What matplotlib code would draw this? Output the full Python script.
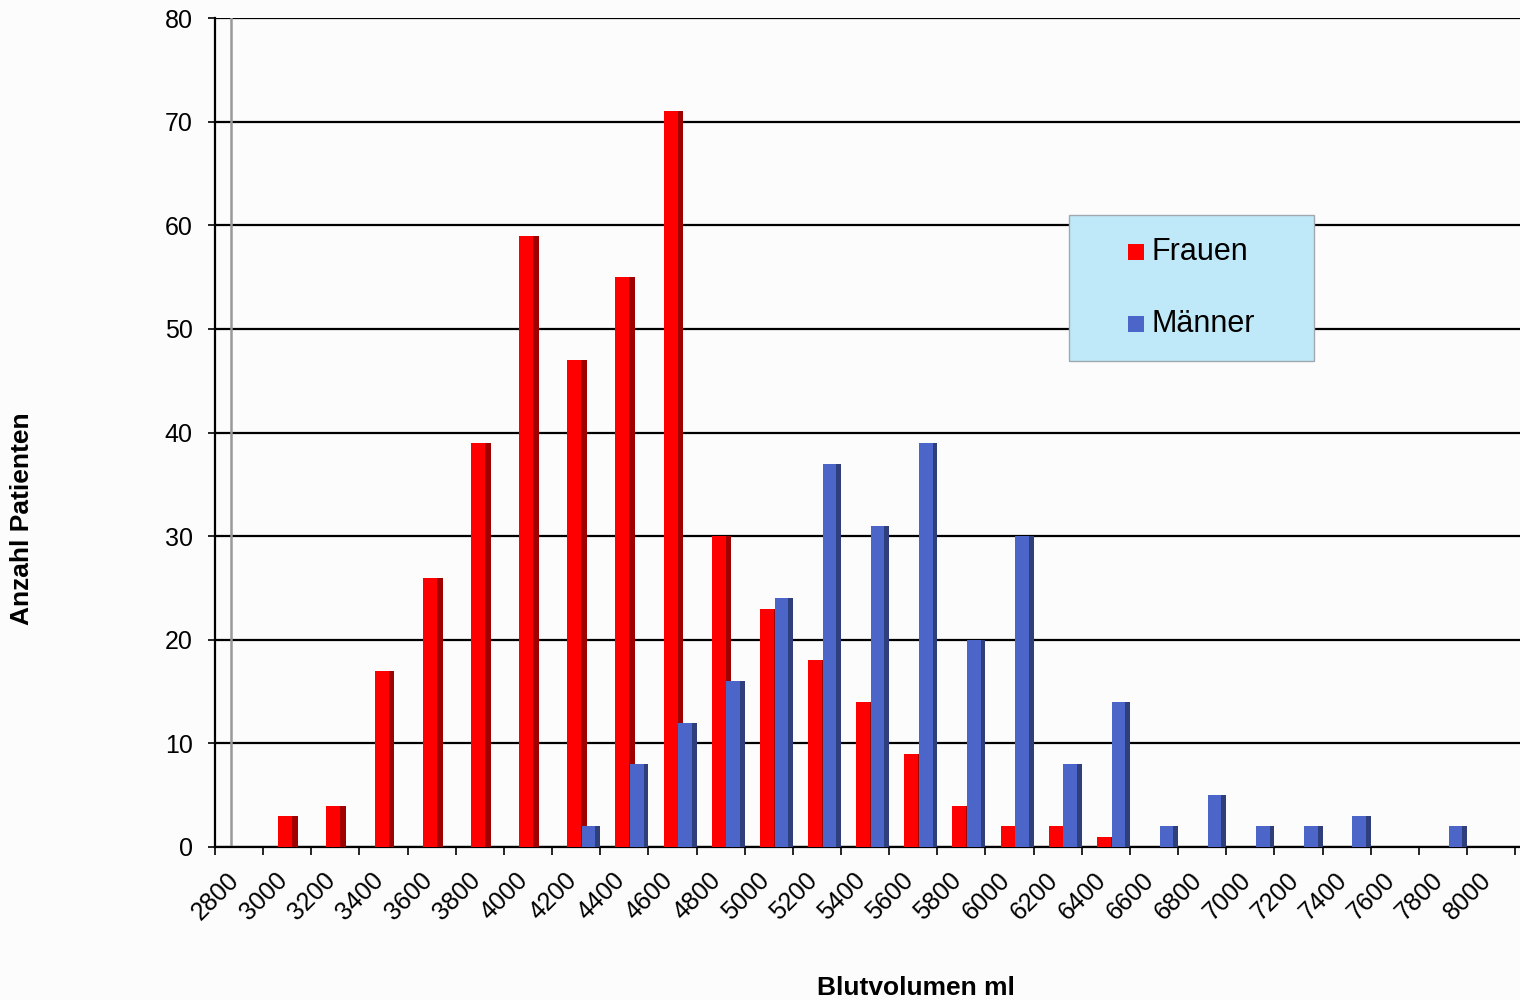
import numpy as np
import matplotlib
matplotlib.use("Agg")
import matplotlib.pyplot as plt
from matplotlib.patches import Rectangle
from matplotlib.transforms import ScaledTranslation

plt.rcParams['font.family'] = ['Liberation Sans', 'DejaVu Sans']

# blood volume classes (ml)
volumen = [2800, 3000, 3200, 3400, 3600, 3800, 4000, 4200, 4400, 4600,
           4800, 5000, 5200, 5400, 5600, 5800, 6000, 6200, 6400, 6600,
           6800, 7000, 7200, 7400, 7600, 7800, 8000]
frauen = [0, 3, 4, 17, 26, 39, 59, 47, 55, 71,
          30, 23, 18, 14, 9, 4, 2, 2, 1, 0,
          0, 0, 0, 0, 0, 0, 0]
maenner = [0, 0, 0, 0, 0, 0, 0, 2, 8, 12,
           16, 24, 37, 31, 39, 20, 30, 8, 14, 2,
           5, 2, 2, 3, 0, 2, 0]

W, H = 1520, 1000
fig = plt.figure(figsize=(W / 100, H / 100), dpi=100)
fig.patch.set_facecolor('#fcfcfc')
ax = fig.add_axes([215 / W, 153 / H, 1305 / W, 829 / H])
ax.set_facecolor('none')

x = np.arange(len(volumen))

# pseudo-3D bars: front face + darker side face
ax.bar(x - 0.185, frauen, width=0.29, align='edge', color='#ff0000', zorder=3)
ax.bar(x + 0.105, frauen, width=0.12, align='edge', color='#a00000', zorder=3)
ax.bar(x + 0.12, maenner, width=0.28, align='edge', color='#4b66c8', zorder=4)
ax.bar(x + 0.40, maenner, width=0.10, align='edge', color='#2f3f7c', zorder=4)

ax.set_xlim(-0.5, 26.6)
ax.set_ylim(0, 80)

# y axis
ax.set_yticks(np.arange(0, 81, 10))
ax.tick_params(axis='y', length=5, width=1.2, pad=11, labelsize=18)
ax.yaxis.grid(True, color='black', linewidth=1.6, zorder=1)
ax.set_axisbelow(True)
ax.axvline(-0.17, color='#999999', linewidth=1.8, zorder=2)

# x axis: ticks at class boundaries, labels at centers
ax.set_xticks(np.arange(-0.5, 27, 1.0))
ax.set_xticklabels([])
ax.tick_params(axis='x', which='major', length=6, width=1.2)
ax.set_xticks(x, minor=True)
ax.set_xticklabels([str(v) for v in volumen], minor=True, rotation=45,
                   ha='right', va='top', fontsize=18)
ax.tick_params(axis='x', which='minor', length=0, pad=15)
off = ScaledTranslation(5 / 100, 0, fig.dpi_scale_trans)
for lab in ax.get_xticklabels(minor=True):
    lab.set_transform(lab.get_transform() + off)

for s in ['top', 'right']:
    ax.spines[s].set_visible(False)
ax.spines['left'].set_linewidth(1.6)
ax.spines['bottom'].set_linewidth(1.6)

fig.text(22 / W, 1 - 519 / H, 'Anzahl Patienten', rotation=90, fontsize=19,
         fontweight='bold', ha='center', va='center')
fig.text(916 / W, 1 - 988 / H, 'Blutvolumen ml', fontsize=19,
         fontweight='bold', ha='center', va='center')

# legend box
fig.patches.append(Rectangle((1069 / W, 1 - 361 / H), 245 / W, 146 / H,
                             transform=fig.transFigure, facecolor='#bfe9f8',
                             edgecolor='#a0a8b0', linewidth=1, zorder=5))
for yy, lab, col in [(252, 'Frauen', '#ff0000'), (324, 'Männer', '#4b66c8')]:
    fig.patches.append(Rectangle((1128 / W, 1 - (yy + 8) / H), 16 / W, 16 / H,
                                 transform=fig.transFigure, facecolor=col,
                                 edgecolor='none', zorder=6))
    fig.text(1151 / W, 1 - yy / H, lab, fontsize=22, ha='left', va='center',
             zorder=7)

fig.savefig('out.png', dpi=100, facecolor=fig.get_facecolor())
